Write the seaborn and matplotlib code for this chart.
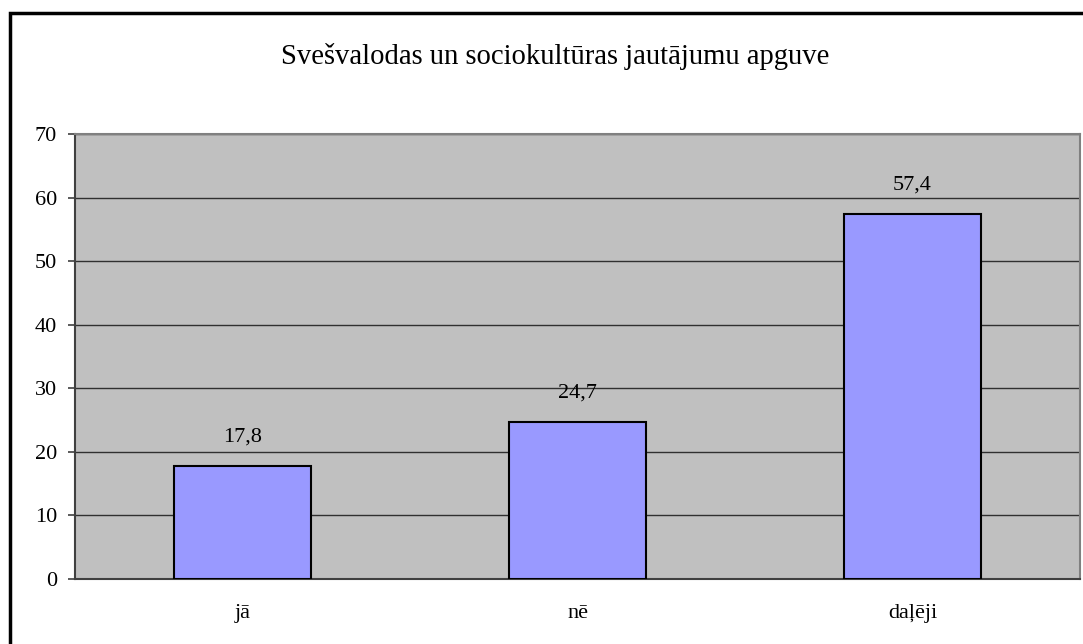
import matplotlib
matplotlib.use("Agg")
import matplotlib.pyplot as plt
import matplotlib.patches as mpatches
import seaborn as sns
import pandas as pd

categories = ["jā", "nē", "daļēji"]
values = [17.8, 24.7, 57.4]
value_labels = ["17,8", "24,7", "57,4"]
title = "Svešvalodas un sociokultūras jautājumu apguve"

sns.set_theme(style="white")
plt.rcParams["font.family"] = ["Liberation Serif", "DejaVu Serif"]
plt.rcParams["text.color"] = "black"
plt.rcParams["xtick.color"] = "black"
plt.rcParams["ytick.color"] = "black"

df = pd.DataFrame({"cat": categories, "val": values})

fig = plt.figure(figsize=(10.83, 6.44), dpi=100)
ax = fig.add_axes([75 / 1083, 1 - 579 / 644, 1005 / 1083, 445 / 644])
ax.set_facecolor("#C0C0C0")

sns.barplot(data=df, x="cat", y="val", color="#9999FF", edgecolor="black",
            linewidth=1.5, width=0.406, saturation=1, ax=ax, zorder=3)

ax.set_ylim(0, 70)
ax.set_xlim(-0.5, 2.5)
ax.set_yticks(range(0, 71, 10))
ax.yaxis.grid(True, color="#303030", linewidth=1, zorder=0)
ax.set_axisbelow(True)
ax.set_xlabel("")
ax.set_ylabel("")

ax.set_xticks([-0.5, 0.5, 1.5, 2.5], minor=True)
ax.tick_params(axis="x", which="major", length=0, pad=18, labelsize=16, labelcolor="black")
ax.tick_params(axis="x", which="minor", length=5, width=1.2, color="#404040", direction="out")
ax.tick_params(axis="y", length=5, width=1.2, color="#404040", direction="out",
               labelsize=16, labelcolor="black", pad=8, left=True)

for side in ["left", "bottom"]:
    ax.spines[side].set_color("#404040")
    ax.spines[side].set_linewidth(1.5)
for side in ["top", "right"]:
    ax.spines[side].set_color("#808080")
    ax.spines[side].set_linewidth(1.5)
    ax.spines[side].set_visible(True)

for i, (v, lab) in enumerate(zip(values, value_labels)):
    ax.annotate(lab, (i, v), xytext=(0, 14), textcoords="offset points",
                ha="center", va="bottom", fontsize=16, color="black")

fig.text(555.5 / 1083, 1 - 64 / 644, title, ha="center", va="baseline",
         fontsize=20.6, color="black")

# outer chart border (right and bottom run past the image edge)
fig.patches.append(mpatches.Rectangle((10 / 1083, -0.1), 1.2, 1 - 13 / 644 + 0.1,
                                      transform=fig.transFigure, fill=False,
                                      edgecolor="black", linewidth=2.5, zorder=10))

fig.savefig("out.png", dpi=100)
